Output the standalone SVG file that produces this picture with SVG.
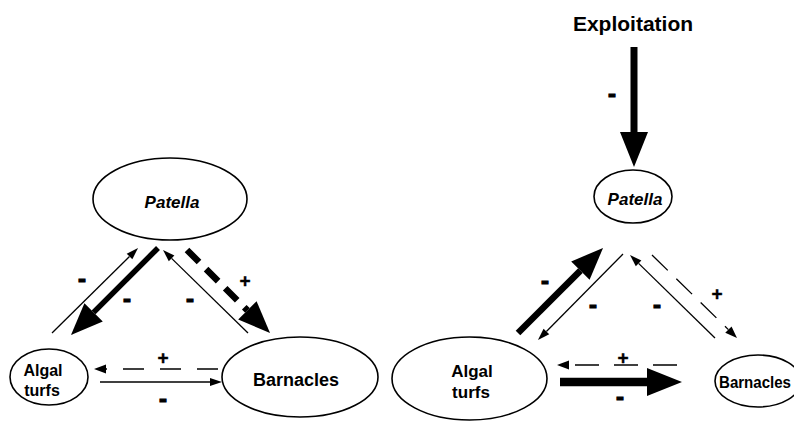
<svg xmlns="http://www.w3.org/2000/svg" width="794" height="421" viewBox="0 0 794 421">
<style>
  .node { fill: #fff; stroke: #000; stroke-width: 1.6; }
  .name { font-family: "Liberation Sans", Arial, sans-serif; font-weight: bold; fill: #000; text-anchor: middle; }
  .ital { font-style: italic; }
  .thin { stroke: #000; stroke-width: 1.3; fill: none; }
  .sign { font-family: "Liberation Sans", Arial, sans-serif; font-weight: bold; fill: #000; stroke: #000; text-anchor: middle; }
  .minus { font-size: 24px; stroke-width: 1.1; }
  .plus { font-size: 19px; stroke-width: 0.4; }
</style>
<defs>
  <marker id="hs" markerUnits="userSpaceOnUse" markerWidth="12" markerHeight="8" refX="0" refY="4" orient="auto" overflow="visible">
    <path d="M0,0 L12,4 L0,8 z" fill="#000"/>
  </marker>
  <marker id="hd" markerUnits="userSpaceOnUse" markerWidth="12" markerHeight="9" refX="0" refY="4.5" orient="auto" overflow="visible">
    <path d="M0,0 L12,4.5 L0,9 z" fill="#000"/>
  </marker>
  <marker id="hb" markerUnits="userSpaceOnUse" markerWidth="32" markerHeight="26" refX="0" refY="13" orient="auto" overflow="visible">
    <path d="M0,0 L32,13 L0,26 z" fill="#000"/>
  </marker>
  <marker id="hx" markerUnits="userSpaceOnUse" markerWidth="35" markerHeight="28" refX="0" refY="14" orient="auto" overflow="visible">
    <path d="M0,0 L35,14 L0,28 z" fill="#000"/>
  </marker>
</defs>

<!-- Left panel nodes -->
<g id="patella-left">
  <ellipse class="node" cx="170" cy="199" rx="77" ry="41"/>
  <text class="name ital" x="172" y="208" font-size="17">Patella</text>
</g>
<g id="algal-left">
  <ellipse class="node" cx="49" cy="377" rx="39" ry="28"/>
  <text class="name" x="43" y="376" font-size="16">Algal</text>
  <text class="name" x="42" y="396" font-size="16">turfs</text>
</g>
<g id="barnacles-left">
  <ellipse class="node" cx="300" cy="377" rx="78" ry="40"/>
  <text class="name" x="296" y="386" font-size="18">Barnacles</text>
</g>

<!-- Right panel nodes -->
<g id="exploitation">
  <text class="name" x="633" y="31" font-size="21">Exploitation</text>
</g>
<g id="patella-right">
  <ellipse class="node" cx="633" cy="196.5" rx="39" ry="26.5"/>
  <text class="name ital" x="635" y="205" font-size="17">Patella</text>
</g>
<g id="algal-right">
  <ellipse class="node" cx="469.5" cy="378.5" rx="77.5" ry="41.5"/>
  <text class="name" x="472" y="377" font-size="17">Algal</text>
  <text class="name" x="471" y="398" font-size="17">turfs</text>
</g>
<g id="barnacles-right">
  <ellipse class="node" cx="758" cy="381" rx="43" ry="26"/>
  <text class="name" x="755" y="388" font-size="16" textLength="72" lengthAdjust="spacingAndGlyphs">Barnacles</text>
</g>

<!-- Connectors -->
<g id="connectors">
  <!-- left -->
  <line class="thin" x1="52" y1="333" x2="129.5" y2="256.5" marker-end="url(#hs)"/>
  <line stroke="#000" stroke-width="5.5" x1="158" y1="248" x2="93.6" y2="312.4" marker-end="url(#hb)"/>
  <line class="thin" x1="248" y1="333" x2="171.6" y2="258.4" marker-end="url(#hs)"/>
  <line stroke="#000" stroke-width="6.5" stroke-dasharray="17 10" x1="187" y1="250" x2="247.4" y2="310.4" marker-end="url(#hb)"/>
  <line class="thin" stroke-dasharray="21 16" x1="218" y1="369" x2="106" y2="369" marker-end="url(#hd)"/>
  <line class="thin" x1="100" y1="382" x2="210" y2="382" marker-end="url(#hs)"/>
  <!-- right -->
  <line stroke="#000" stroke-width="7" x1="634" y1="47" x2="634" y2="132" marker-end="url(#hx)"/>
  <line stroke="#000" stroke-width="6.5" x1="518" y1="333" x2="580.4" y2="270.6" marker-end="url(#hb)"/>
  <line class="thin" x1="623" y1="254" x2="546.4" y2="331.5" marker-end="url(#hs)"/>
  <line class="thin" x1="715" y1="338" x2="638.6" y2="263.4" marker-end="url(#hs)"/>
  <line class="thin" stroke-dasharray="22 12" x1="652" y1="255" x2="728.4" y2="329.6" marker-end="url(#hd)"/>
  <line class="thin" stroke-dasharray="24 15" x1="677" y1="365" x2="569" y2="365" marker-end="url(#hd)"/>
  <line stroke="#000" stroke-width="8.5" x1="560" y1="382" x2="647" y2="382" marker-end="url(#hx)"/>
</g>

<!-- Signs -->
<g id="signs">
  <text class="sign minus" x="82" y="287">-</text>
  <text class="sign minus" x="127" y="307">-</text>
  <text class="sign minus" x="190" y="307">-</text>
  <text class="sign plus" x="245" y="287">+</text>
  <text class="sign plus" x="163" y="364">+</text>
  <text class="sign minus" x="163" y="407">-</text>

  <text class="sign minus" x="612" y="102">-</text>
  <text class="sign minus" x="545" y="289">-</text>
  <text class="sign minus" x="593" y="313">-</text>
  <text class="sign minus" x="657" y="313">-</text>
  <text class="sign plus" x="717" y="300">+</text>
  <text class="sign plus" x="623" y="364">+</text>
  <text class="sign minus" x="620" y="405">-</text>
</g>
</svg>
